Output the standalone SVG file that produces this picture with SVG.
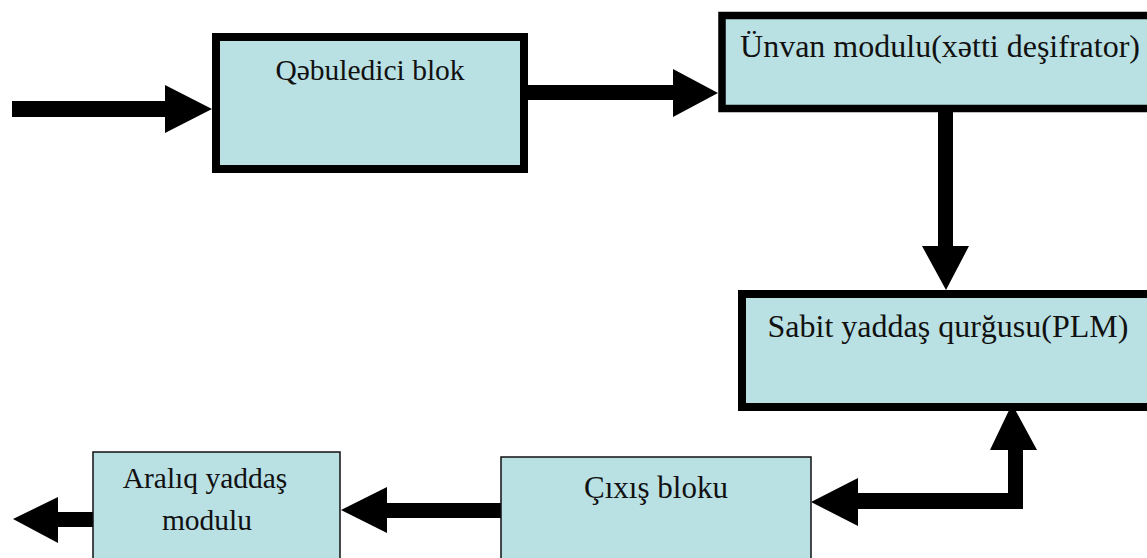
<svg xmlns="http://www.w3.org/2000/svg" width="1147" height="558" viewBox="0 0 1147 558">
<style>
.box{fill:#b9e0e3;stroke:#000}
.thick{stroke-width:8}
.thin{stroke-width:1.5;stroke:#111}
.lbl{font-family:"Liberation Serif","Times New Roman",serif;fill:#111;text-anchor:middle}
.con{fill:#000;stroke:none}
</style>
<rect width="1147" height="558" fill="#fff"/>
<g id="connectors">
<path class="con" d="M12,101 H165 V85 L212,109 L165,133 V117 H12 Z"/>
<path class="con" d="M524,85 H673 V69 L718,93 L673,117 V100 H524 Z"/>
<path class="con" d="M938,110 H953 V246 H969 L946,290 L922,246 H938 Z"/>
<path class="con" d="M811,502 L858,478 L858,493 L1008,493 L1008,450 L990,450 L1012,404 L1037,450 L1023,450 L1023,509 L858,509 L858,526 Z"/>
<path class="con" d="M501,503 H387 V487 L341,510 L387,533 V518 H501 Z"/>
<path class="con" d="M93,512 H58 V497 L13,519 L58,543 V527 H93 Z"/>
</g>
<g id="node-qebuledici">
<rect class="box thick" x="216" y="37" width="308" height="132"/>
<text class="lbl" x="370" y="80" font-size="29.5">Qəbuledici blok</text>
</g>
<g id="node-unvan">
<rect class="box" stroke-width="7.5" x="722" y="15.5" width="440" height="93"/>
<text class="lbl" x="940" y="57" font-size="32">Ünvan modulu(xətti deşifrator)</text>
</g>
<g id="node-sabit">
<rect class="box thick" x="742" y="294" width="420" height="113"/>
<text class="lbl" x="948" y="337" font-size="32">Sabit yaddaş qurğusu(PLM)</text>
</g>
<g id="node-cixis">
<rect class="box thin" x="501" y="457" width="310" height="120"/>
<text class="lbl" x="656" y="498" font-size="31">Çıxış bloku</text>
</g>
<g id="node-araliq">
<rect class="box thin" x="93" y="452" width="247" height="130"/>
<text class="lbl" x="205" y="488" font-size="29.5">Aralıq yaddaş</text>
<text class="lbl" x="207" y="530" font-size="29.5">modulu</text>
</g>
</svg>
